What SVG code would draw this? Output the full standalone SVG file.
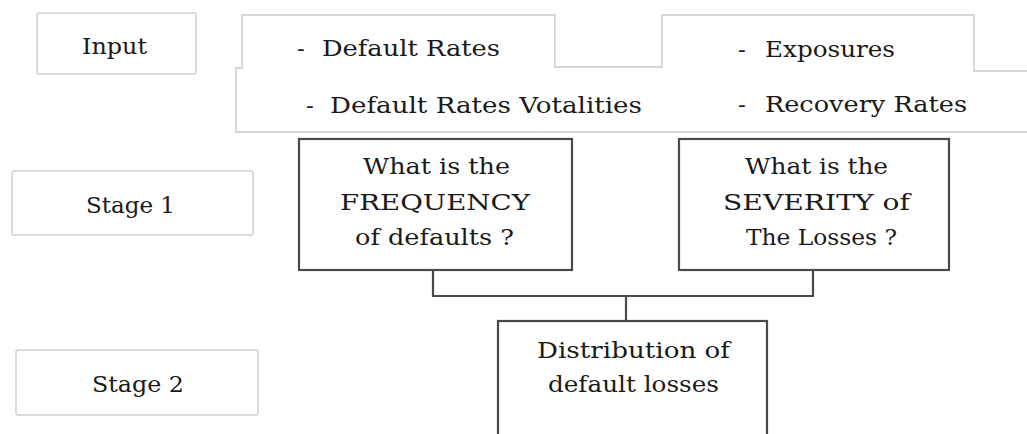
<svg xmlns="http://www.w3.org/2000/svg" width="1027" height="434" viewBox="0 0 1027 434">
<style>
text{font-family:"DejaVu Serif","Liberation Serif",serif;font-size:23px;fill:#1a1a1a}
.lbl{fill:#fff;stroke:#d0d0d0;stroke-width:1.5}
.box{fill:#fff;stroke:#4a4a4a;stroke-width:2.2}
.area{fill:#fff;stroke:#d6d6d6;stroke-width:1.8}
.conn{fill:none;stroke:#4a4a4a;stroke-width:2.2}
</style>
<rect width="1027" height="434" fill="#fff"/>
<g id="input-label">
<rect class="lbl" x="37" y="13" width="159" height="61" rx="2"/>
<text x="82" y="54" textLength="65" lengthAdjust="spacingAndGlyphs">Input</text>
</g>
<g id="input-area">
<path class="area" d="M236,132 V68 H242 V15 H555 V67 H662 V15 H974 V71 H1030 V132 H236 Z"/>
<text y="56"><tspan x="297">-</tspan><tspan x="322" textLength="178" lengthAdjust="spacingAndGlyphs">Default Rates</tspan></text>
<text y="113"><tspan x="306">-</tspan><tspan x="330" textLength="312" lengthAdjust="spacingAndGlyphs">Default Rates Votalities</tspan></text>
<text y="57"><tspan x="738">-</tspan><tspan x="765" textLength="130" lengthAdjust="spacingAndGlyphs">Exposures</tspan></text>
<text y="112"><tspan x="738">-</tspan><tspan x="765" textLength="202" lengthAdjust="spacingAndGlyphs">Recovery Rates</tspan></text>
</g>
<g id="stage1-label">
<rect class="lbl" x="12" y="171" width="241" height="64" rx="2"/>
<text x="86" y="213" textLength="89" lengthAdjust="spacingAndGlyphs">Stage 1</text>
</g>
<g id="stage2-label">
<rect class="lbl" x="16" y="350" width="242" height="65" rx="2"/>
<text x="92" y="392" textLength="92" lengthAdjust="spacingAndGlyphs">Stage 2</text>
</g>
<g id="connectors">
<path class="conn" d="M433,270 V296 H813 V270"/>
<path class="conn" d="M626,296 V321"/>
</g>
<g id="frequency">
<rect class="box" x="299" y="139" width="273" height="131"/>
<text x="363" y="174" textLength="147" lengthAdjust="spacingAndGlyphs">What is the</text>
<text x="340" y="210" textLength="190" lengthAdjust="spacingAndGlyphs">FREQUENCY</text>
<text x="355" y="245" textLength="159" lengthAdjust="spacingAndGlyphs">of defaults ?</text>
</g>
<g id="severity">
<rect class="box" x="679" y="139" width="270" height="131"/>
<text x="745" y="174" textLength="143" lengthAdjust="spacingAndGlyphs">What is the</text>
<text x="723" y="210" textLength="187" lengthAdjust="spacingAndGlyphs">SEVERITY of</text>
<text x="746" y="245" textLength="151" lengthAdjust="spacingAndGlyphs">The Losses ?</text>
</g>
<g id="distribution">
<rect class="box" x="498" y="321" width="269" height="125"/>
<text x="537" y="358" textLength="193" lengthAdjust="spacingAndGlyphs">Distribution of</text>
<text x="548" y="392" textLength="171" lengthAdjust="spacingAndGlyphs">default losses</text>
</g>
</svg>
